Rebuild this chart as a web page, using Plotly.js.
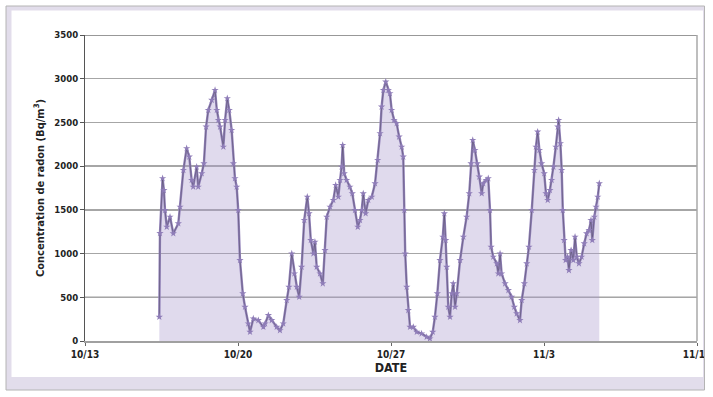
<!DOCTYPE html>
<html>
<head>
<meta charset="utf-8">
<script src="https://cdn.plot.ly/plotly-3.0.1.min.js"></script>
<style>html,body{margin:0;padding:0;background:#fff;}#chart{width:713px;height:397px;}</style>
</head>
<body>
<div id="chart"></div>
<script>
// Days since 10/13 (x) and radon concentration in Bq/m3 (y)
const days = [
 3.40,3.43,3.55,3.61,3.66,3.74,3.89,4.04,4.27,4.35,4.50,4.65,4.77,4.88,4.95,5.11,5.18,5.34,5.44,5.54,
 5.64,5.80,5.95,6.03,6.10,6.18,6.33,6.41,6.51,6.60,6.71,6.79,6.86,6.94,7.01,7.09,7.22,7.32,7.47,7.55,
 7.70,7.93,8.16,8.24,8.39,8.54,8.77,8.92,9.07,9.23,9.33,9.46,9.58,9.69,9.80,9.91,10.03,10.17,10.25,10.33,
 10.45,10.52,10.60,10.75,10.88,10.98,11.06,11.21,11.36,11.47,11.59,11.67,11.74,11.79,11.86,11.97,12.12,12.23,12.35,12.48,
 12.58,12.66,12.73,12.84,12.96,13.12,13.27,13.39,13.50,13.57,13.65,13.76,13.88,13.95,14.03,14.14,14.26,14.37,14.49,14.56,
 14.61,14.65,14.72,14.79,14.87,15.02,15.18,15.40,15.63,15.78,15.91,16.01,16.12,16.24,16.37,16.44,16.50,16.55,16.62,16.70,
 16.78,16.85,16.93,17.01,17.16,17.31,17.46,17.58,17.66,17.74,17.84,17.95,18.04,18.15,18.22,18.35,18.45,18.53,18.58,18.68,
 18.84,18.91,18.99,19.06,19.22,19.37,19.52,19.64,19.75,19.90,19.98,20.10,20.21,20.31,20.44,20.56,20.63,20.71,20.79,20.89,
 21.01,21.09,21.17,21.27,21.35,21.43,21.54,21.63,21.67,21.75,21.81,21.86,21.92,21.99,22.08,22.14,22.24,22.34,22.42,22.50,
 22.60,22.72,22.84,22.95,23.06,23.15,23.21,23.30,23.38,23.46,23.53
];
const radon = [
 275,1233,1860,1725,1496,1305,1420,1230,1344,1534,1954,2203,2107,1840,1763,1992,1763,1916,2031,2450,
 2641,2756,2870,2641,2527,2450,2221,2527,2775,2641,2412,2031,1860,1763,1496,924,543,389,199,103,
 256,237,160,199,294,237,160,122,199,466,618,1000,771,618,504,847,1382,1649,1459,1153,
 1000,1134,847,771,657,1038,1420,1534,1611,1783,1649,1840,1992,2241,1916,1840,1763,1687,1496,1305,
 1382,1496,1687,1459,1611,1649,1802,2069,2375,2679,2870,2965,2870,2832,2641,2527,2489,2336,2221,2107,
 1496,1000,618,351,160,160,103,85,46,27,103,275,543,924,1191,1459,1153,847,389,275,
 543,657,389,543,924,1191,1420,1687,2031,2298,2183,2031,1878,1687,1802,1840,1860,1496,1076,962,
 886,771,1000,771,657,580,504,389,314,237,466,657,886,1076,1496,1954,2221,2393,2183,2031,
 1916,1687,1611,1725,1840,1992,2221,2450,2527,2260,1954,1496,1153,924,962,809,1038,924,1191,962,
 886,962,1115,1230,1268,1382,1153,1420,1534,1649,1802
];
const tickDays = [0, 7, 14, 21, 28];
const tickLabels = ["10/13", "10/20", "10/27", "11/3", "11/10"];
const yTicks = [0, 500, 1000, 1500, 2000, 2500, 3000, 3500];

const FONT = "DejaVu Sans Condensed, Liberation Sans Narrow, sans-serif";
const W = 713, H = 397, L = 85, R = 697, T = 35, B = 341;
const px = v => (v - L) / (R - L);
const py = v => (B - v) / (B - T);

const traces = [
  {x: days, y: radon, type: 'scatter', mode: 'lines', fill: 'tozeroy',
   fillcolor: 'rgba(170,152,205,0.36)', line: {width: 0, color: 'rgba(0,0,0,0)'}, hoverinfo: 'skip'},
  {x: days, y: radon, type: 'scatter', mode: 'lines', line: {color: '#9383ba', width: 2.4}},
  {x: days, y: radon, type: 'scatter', mode: 'lines', line: {color: 'rgba(20,20,20,0.4)', width: 0.7}},
  {x: days, y: radon, type: 'scatter', mode: 'markers',
   marker: {symbol: 'star', size: 5.5, color: '#8f7db8', line: {width: 0}}}
];

const shapes = [
  {type: 'rect', xref: 'paper', yref: 'paper', x0: px(6), x1: px(704.5), y0: py(390), y1: py(6),
   fillcolor: '#e2ddeb', line: {color: '#b4b4b4', width: 1}, layer: 'below'},
  {type: 'rect', xref: 'paper', yref: 'paper', x0: px(11.5), x1: px(703), y0: py(377), y1: py(10.5),
   fillcolor: '#ffffff', line: {width: 0}, layer: 'below'},
  {type: 'line', xref: 'paper', yref: 'y', x0: 0, x1: 1, y0: 500, y1: 500, line: {color: '#222', width: 1}, layer: 'below'},
  {type: 'line', xref: 'paper', yref: 'y', x0: 0, x1: 1, y0: 3500, y1: 3500, line: {color: '#333', width: 1.2}, layer: 'below'},
  {type: 'line', xref: 'paper', yref: 'paper', x0: 1, x1: 1, y0: 0, y1: 1, line: {color: '#a8a8a8', width: 1.5}, layer: 'below'},
  {type: 'rect', xref: 'paper', yref: 'paper', x0: px(705), x1: px(714), y0: py(398), y1: py(-1),
   fillcolor: '#ffffff', line: {width: 0}, layer: 'above'},
  {type: 'line', xref: 'paper', yref: 'paper', x0: px(704.5), x1: px(704.5), y0: py(390), y1: py(6),
   line: {color: '#b4b4b4', width: 1}, layer: 'above'}
];

const layout = {
  width: W, height: H,
  margin: {l: L, r: W - R, t: T, b: H - B, pad: 0},
  paper_bgcolor: '#ffffff', plot_bgcolor: 'rgba(0,0,0,0)',
  showlegend: false,
  xaxis: {
    range: [0, 28], tickvals: tickDays, ticktext: tickLabels,
    showgrid: false, zeroline: false,
    showline: true, linecolor: '#a0a0a0', linewidth: 2,
    ticks: 'outside', ticklen: 3, tickcolor: '#666', tickwidth: 1,
    tickfont: {family: FONT, size: 10, color: '#222', weight: 'bold'},
    title: {text: 'DATE', font: {family: FONT, size: 12.5, color: '#222', weight: 'bold'}, standoff: 4},
    automargin: false
  },
  yaxis: {
    range: [0, 3500], tickvals: yTicks,
    showgrid: true, gridcolor: '#a6a6a6', gridwidth: 1.3, zeroline: false,
    showline: true, linecolor: '#555', linewidth: 1,
    ticks: 'outside', ticklen: 4, tickcolor: '#555', tickwidth: 1,
    tickfont: {family: FONT, size: 9.5, color: '#222', weight: 'bold'},
    title: {text: 'Concentration de radon (Bq/m<sup>3</sup>)', font: {family: FONT, size: 11, color: '#222', weight: 'bold'}, standoff: 7},
    automargin: false
  },
  shapes: shapes
};

Plotly.newPlot('chart', traces, layout, {staticPlot: true, displayModeBar: false});
</script>
</body>
</html>
